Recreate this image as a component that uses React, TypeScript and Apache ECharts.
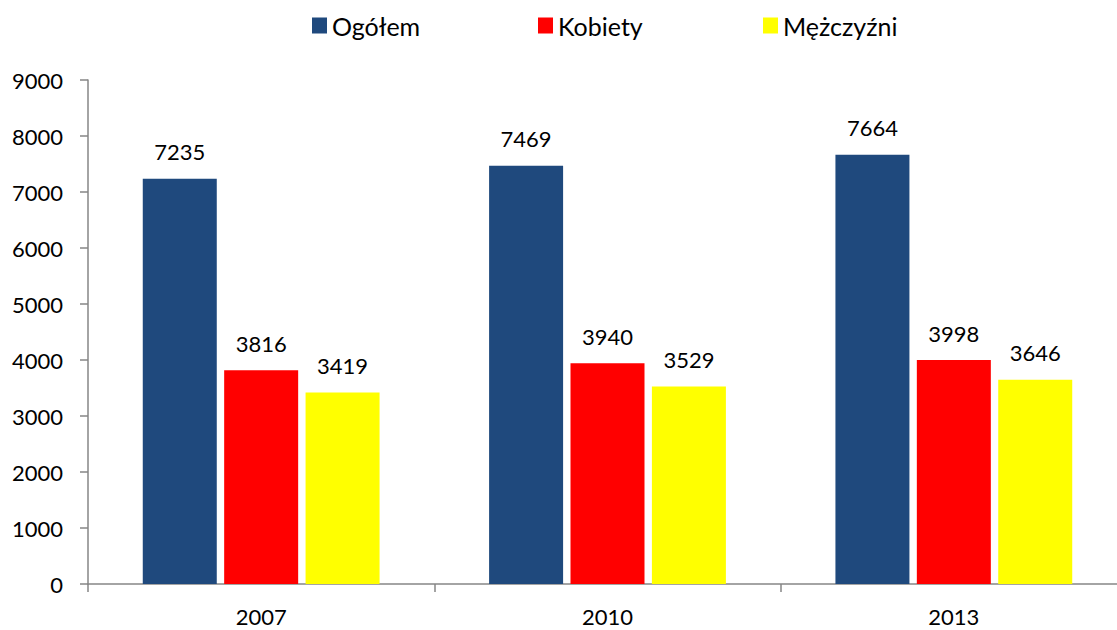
import React, { useEffect, useRef } from "react";
import * as echarts from "echarts";

const categories = ["2007", "2010", "2013"];
const seriesNames = ["Ogółem", "Kobiety", "Mężczyźni"];
const ogolem = [7235, 7469, 7664];
const kobiety = [3816, 3940, 3998];
const mezczyzni = [3419, 3529, 3646];
const colors = ["#1F497D", "#FF0000", "#FFFF00"];
const legendLefts = [307, 533, 758];

const FONT = "Lato, 'Open Sans', sans-serif";

export default function App() {
  const ref = useRef<HTMLDivElement>(null);
  useEffect(() => {
    if (!ref.current) return;
    const chart = echarts.init(ref.current, null, { renderer: "svg" });
    const values = [ogolem, kobiety, mezczyzni];
    chart.setOption({
      animation: false,
      backgroundColor: "#ffffff",
      textStyle: { fontFamily: FONT },
      legend: seriesNames.map((n, i) => ({
        data: [n],
        left: legendLefts[i],
        top: 8,
        itemWidth: 15,
        itemHeight: 16,
        itemGap: 4,
        icon: "rect",
        textStyle: { fontFamily: FONT, fontSize: 25, color: "#000", padding: [0, 0, 0, 0] },
      })),
      grid: { left: 88, right: 0, top: 80, bottom: 46 },
      xAxis: {
        type: "category",
        data: categories,
        axisLine: { lineStyle: { color: "#868686", width: 1.5 } },
        axisTick: { show: true, length: 8, lineStyle: { color: "#868686", width: 1.5 } },
        axisLabel: { color: "#000", fontSize: 22, fontFamily: FONT, margin: 21 },
      },
      yAxis: {
        type: "value",
        min: 0,
        max: 9000,
        interval: 1000,
        axisLine: { show: true, lineStyle: { color: "#868686", width: 1.5 } },
        axisTick: { show: true, length: 8, lineStyle: { color: "#868686", width: 1.5 } },
        splitLine: { show: false },
        axisLabel: {
          color: "#000",
          fontSize: 22,
          fontFamily: FONT,
          margin: 25,
          formatter: (v: number) => String(v),
        },
      },
      series: seriesNames.map((n, i) => ({
        name: n,
        type: "bar",
        data: values[i],
        barWidth: 74,
        barGap: "10%",
        itemStyle: { color: colors[i] },
        label: {
          show: true,
          position: "top",
          distance: 16,
          color: "#000",
          fontSize: 22,
          fontFamily: FONT,
        },
      })),
    });
    return () => chart.dispose();
  }, []);
  return (
    <div
      style={{
        position: "absolute",
        left: 0,
        top: 0,
        width: 1117,
        height: 630,
        overflow: "hidden",
      }}
    >
      <div ref={ref} style={{ width: 1127, height: 630 }} />
    </div>
  );
}
